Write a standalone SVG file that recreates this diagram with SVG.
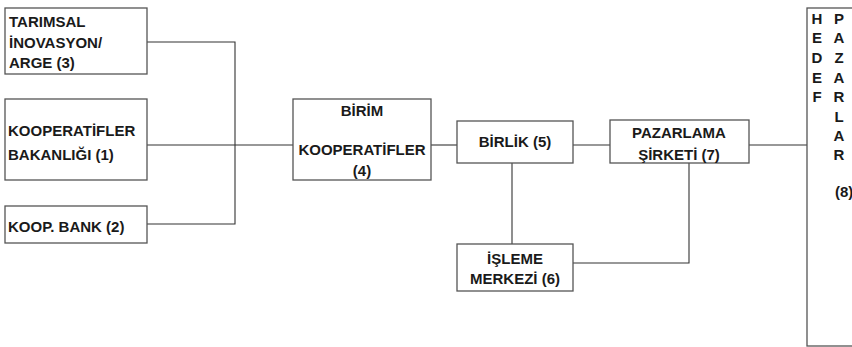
<svg xmlns="http://www.w3.org/2000/svg" width="852" height="347" viewBox="0 0 852 347">
<style>
.box{fill:#fff;stroke:#555;stroke-width:1.3}
.t{font-family:"Liberation Sans",Arial,sans-serif;font-weight:bold;font-size:15px;fill:#1a1a1a}
.c{text-anchor:middle}
.ln{fill:none;stroke:#333;stroke-width:1.1}
</style>
<rect width="852" height="347" fill="#fff"/>
<g id="connectors">
<path class="ln" d="M147 42H235V224H147"/>
<path class="ln" d="M147 145H293"/>
<path class="ln" d="M431 145H457"/>
<path class="ln" d="M573 145H610"/>
<path class="ln" d="M749 145H807"/>
<path class="ln" d="M512 163V244"/>
<path class="ln" d="M573 263H689V163"/>
</g>
<g id="n3">
<rect class="box" x="5" y="8" width="142" height="66"/>
<text class="t" x="9" y="27">TARIMSAL</text>
<text class="t" x="9" y="48">İNOVASYON/</text>
<text class="t" x="9" y="68">ARGE (3)</text>
</g>
<g id="n1">
<rect class="box" x="5" y="99" width="142" height="81"/>
<text class="t" x="8" y="136">KOOPERATİFLER</text>
<text class="t" x="8" y="160">BAKANLIĞI (1)</text>
</g>
<g id="n2">
<rect class="box" x="5" y="206" width="142" height="37"/>
<text class="t" x="8" y="232">KOOP. BANK (2)</text>
</g>
<g id="n4">
<rect class="box" x="293" y="99" width="138" height="81"/>
<text class="t c" x="362" y="116">BİRİM</text>
<text class="t c" x="362" y="155">KOOPERATİFLER</text>
<text class="t c" x="362" y="176">(4)</text>
</g>
<g id="n5">
<rect class="box" x="457" y="121" width="116" height="42"/>
<text class="t c" x="515" y="147">BİRLİK (5)</text>
</g>
<g id="n6">
<rect class="box" x="457" y="244" width="116" height="47"/>
<text class="t c" x="515" y="264">İŞLEME</text>
<text class="t c" x="515" y="284">MERKEZİ (6)</text>
</g>
<g id="n7">
<rect class="box" x="610" y="120" width="139" height="43"/>
<text class="t c" x="679" y="138">PAZARLAMA</text>
<text class="t c" x="679" y="160">ŞİRKETİ (7)</text>
</g>
<g id="n8">
<rect class="box" x="807" y="8" width="60" height="338"/>
<text class="t c" x="817" y="24">H</text>
<text class="t c" x="817" y="43">E</text>
<text class="t c" x="817" y="63">D</text>
<text class="t c" x="817" y="83">E</text>
<text class="t c" x="817" y="102">F</text>
<text class="t c" x="839" y="24">P</text>
<text class="t c" x="839" y="43">A</text>
<text class="t c" x="839" y="63">Z</text>
<text class="t c" x="839" y="83">A</text>
<text class="t c" x="839" y="102">R</text>
<text class="t c" x="839" y="122">L</text>
<text class="t c" x="839" y="141">A</text>
<text class="t c" x="839" y="160">R</text>
<text class="t" x="835" y="197">(8)</text>
</g>
</svg>
